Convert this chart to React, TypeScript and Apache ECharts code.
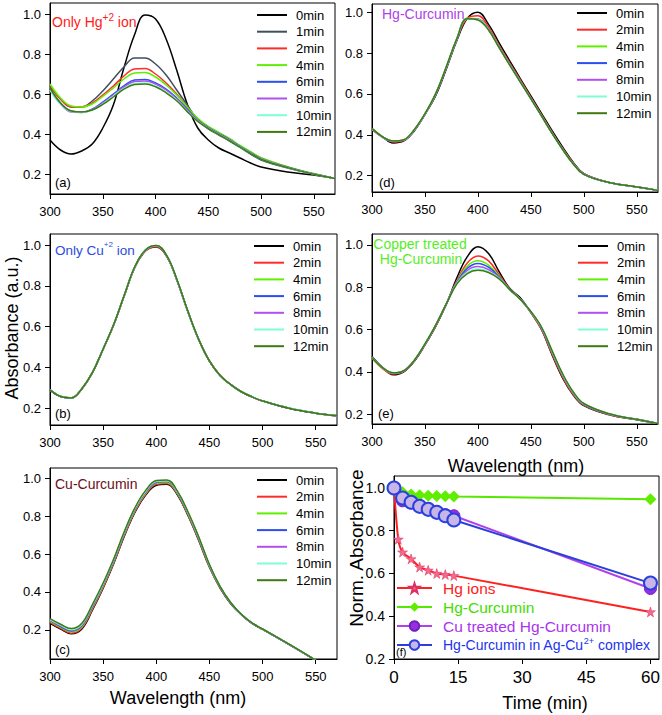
import React, { useEffect, useRef } from 'react';
import * as echarts from 'echarts';

const FONT = '"Liberation Sans", Arial, Helvetica, sans-serif';

// ---------- Data ----------
const WAVELENGTHS = [300, 310, 320, 330, 340, 350, 360, 370, 380, 390, 400, 410, 420, 430, 440, 450, 460, 470, 480, 490, 500, 525, 550, 570];
const TIMES_A = ['0min', '1min', '2min', '4min', '6min', '8min', '10min', '12min'];
const TIMES = ['0min', '2min', '4min', '6min', '8min', '10min', '12min'];
const X_TICKS = [300, 350, 400, 450, 500, 550];
const Y_TICKS = [0.2, 0.4, 0.6, 0.8, 1.0];
const TIME_TICKS = [0, 15, 30, 45, 60];

// (a) Only Hg+2 ion
const A_0 = [0.37, 0.32, 0.30, 0.315, 0.35, 0.43, 0.545, 0.73, 0.895, 0.995, 0.975, 0.875, 0.72, 0.55, 0.43, 0.37, 0.33, 0.305, 0.28, 0.255, 0.235, 0.21, 0.195, 0.178];
const A_1 = [0.64, 0.575, 0.535, 0.535, 0.565, 0.615, 0.675, 0.735, 0.78, 0.78, 0.75, 0.695, 0.62, 0.545, 0.47, 0.425, 0.395, 0.365, 0.333, 0.30, 0.27, 0.23, 0.20, 0.178];
const A_2 = [0.645, 0.575, 0.535, 0.535, 0.555, 0.595, 0.64, 0.69, 0.725, 0.728, 0.70, 0.655, 0.60, 0.535, 0.475, 0.435, 0.405, 0.375, 0.34, 0.31, 0.28, 0.235, 0.20, 0.178];
const A_4 = [0.65, 0.58, 0.54, 0.535, 0.55, 0.588, 0.63, 0.675, 0.705, 0.708, 0.685, 0.645, 0.595, 0.535, 0.478, 0.438, 0.408, 0.378, 0.343, 0.312, 0.282, 0.237, 0.202, 0.178];
const A_6 = [0.625, 0.555, 0.515, 0.51, 0.525, 0.56, 0.60, 0.64, 0.67, 0.672, 0.655, 0.625, 0.58, 0.525, 0.47, 0.432, 0.402, 0.372, 0.338, 0.307, 0.277, 0.234, 0.20, 0.178];
const A_8 = [0.62, 0.55, 0.51, 0.508, 0.522, 0.555, 0.595, 0.635, 0.662, 0.665, 0.65, 0.62, 0.576, 0.52, 0.468, 0.43, 0.40, 0.37, 0.336, 0.305, 0.276, 0.233, 0.20, 0.178];
const A_10 = [0.62, 0.55, 0.512, 0.508, 0.52, 0.55, 0.59, 0.628, 0.652, 0.655, 0.64, 0.61, 0.57, 0.515, 0.465, 0.428, 0.398, 0.368, 0.335, 0.304, 0.275, 0.232, 0.199, 0.178];
const A_12 = [0.63, 0.555, 0.515, 0.51, 0.52, 0.548, 0.585, 0.624, 0.647, 0.65, 0.636, 0.606, 0.566, 0.512, 0.463, 0.427, 0.397, 0.367, 0.334, 0.303, 0.274, 0.232, 0.199, 0.178];

// (d) Hg-Curcumin
const D_0 = [0.43, 0.39, 0.36, 0.37, 0.42, 0.50, 0.59, 0.72, 0.86, 0.97, 1.0, 0.94, 0.85, 0.762, 0.675, 0.59, 0.505, 0.42, 0.34, 0.265, 0.21, 0.165, 0.145, 0.128];
const D_2 = [0.425, 0.388, 0.365, 0.372, 0.422, 0.50, 0.595, 0.725, 0.865, 0.97, 0.982, 0.928, 0.838, 0.752, 0.668, 0.583, 0.498, 0.413, 0.333, 0.262, 0.208, 0.165, 0.145, 0.128];
const D_4 = [0.43, 0.39, 0.37, 0.376, 0.426, 0.503, 0.60, 0.73, 0.87, 0.97, 0.968, 0.918, 0.83, 0.745, 0.662, 0.578, 0.494, 0.409, 0.329, 0.258, 0.207, 0.165, 0.145, 0.128];
const D_6 = [0.428, 0.389, 0.368, 0.374, 0.424, 0.501, 0.598, 0.728, 0.868, 0.968, 0.966, 0.916, 0.829, 0.744, 0.661, 0.577, 0.493, 0.408, 0.329, 0.258, 0.207, 0.165, 0.145, 0.128];
const D_8 = [0.427, 0.388, 0.368, 0.374, 0.424, 0.501, 0.598, 0.728, 0.867, 0.967, 0.965, 0.915, 0.828, 0.743, 0.66, 0.577, 0.493, 0.408, 0.329, 0.258, 0.207, 0.165, 0.145, 0.128];
const D_10 = [0.428, 0.389, 0.369, 0.375, 0.425, 0.502, 0.599, 0.729, 0.868, 0.967, 0.964, 0.914, 0.827, 0.742, 0.659, 0.576, 0.492, 0.407, 0.328, 0.257, 0.206, 0.165, 0.145, 0.128];
const D_12 = [0.43, 0.39, 0.37, 0.376, 0.426, 0.503, 0.60, 0.73, 0.869, 0.968, 0.962, 0.913, 0.826, 0.741, 0.658, 0.576, 0.492, 0.407, 0.328, 0.257, 0.206, 0.165, 0.145, 0.128];

// (b) Only Cu+2 ion
const B_0 = [0.289, 0.257, 0.25, 0.295, 0.376, 0.49, 0.61, 0.754, 0.893, 0.972, 0.99, 0.942, 0.818, 0.668, 0.534, 0.43, 0.36, 0.315, 0.28, 0.255, 0.235, 0.199, 0.175, 0.162];
const B_2 = [0.288, 0.256, 0.249, 0.294, 0.374, 0.488, 0.608, 0.752, 0.892, 0.972, 0.992, 0.943, 0.82, 0.67, 0.536, 0.431, 0.361, 0.316, 0.281, 0.256, 0.235, 0.199, 0.175, 0.162];
const B_4 = [0.29, 0.258, 0.251, 0.296, 0.376, 0.491, 0.611, 0.756, 0.896, 0.977, 0.997, 0.946, 0.821, 0.671, 0.535, 0.43, 0.36, 0.315, 0.28, 0.255, 0.235, 0.2, 0.176, 0.163];
const B_6 = [0.289, 0.257, 0.25, 0.295, 0.375, 0.49, 0.61, 0.755, 0.895, 0.975, 0.995, 0.945, 0.82, 0.67, 0.535, 0.43, 0.36, 0.315, 0.28, 0.255, 0.235, 0.199, 0.175, 0.162];
const B_8 = [0.289, 0.257, 0.25, 0.295, 0.375, 0.49, 0.61, 0.755, 0.895, 0.976, 0.996, 0.945, 0.82, 0.67, 0.535, 0.43, 0.36, 0.315, 0.28, 0.255, 0.234, 0.199, 0.175, 0.162];
const B_10 = [0.29, 0.258, 0.25, 0.295, 0.375, 0.49, 0.61, 0.755, 0.895, 0.976, 0.996, 0.946, 0.821, 0.67, 0.535, 0.43, 0.36, 0.315, 0.28, 0.256, 0.235, 0.2, 0.175, 0.162];
const B_12 = [0.289, 0.257, 0.25, 0.295, 0.375, 0.49, 0.611, 0.756, 0.896, 0.977, 0.998, 0.947, 0.822, 0.671, 0.536, 0.431, 0.36, 0.315, 0.28, 0.255, 0.235, 0.199, 0.175, 0.162];

// (e) Copper treated Hg-Curcumin
const E_0 = [0.472, 0.42, 0.386, 0.40, 0.45, 0.527, 0.614, 0.717, 0.843, 0.945, 0.992, 0.96, 0.874, 0.795, 0.75, 0.68, 0.60, 0.48, 0.37, 0.29, 0.24, 0.195, 0.173, 0.155];
const E_2 = [0.465, 0.415, 0.39, 0.402, 0.452, 0.528, 0.615, 0.718, 0.83, 0.915, 0.948, 0.925, 0.86, 0.792, 0.745, 0.68, 0.60, 0.485, 0.375, 0.293, 0.242, 0.196, 0.174, 0.155];
const E_4 = [0.468, 0.418, 0.393, 0.404, 0.454, 0.53, 0.618, 0.72, 0.825, 0.90, 0.925, 0.905, 0.852, 0.79, 0.744, 0.683, 0.606, 0.492, 0.382, 0.298, 0.245, 0.198, 0.175, 0.155];
const E_6 = [0.47, 0.42, 0.394, 0.404, 0.454, 0.53, 0.618, 0.72, 0.822, 0.89, 0.913, 0.895, 0.848, 0.79, 0.743, 0.683, 0.607, 0.494, 0.384, 0.30, 0.246, 0.198, 0.175, 0.155];
const E_8 = [0.47, 0.42, 0.394, 0.405, 0.455, 0.531, 0.619, 0.72, 0.82, 0.88, 0.898, 0.884, 0.845, 0.79, 0.743, 0.684, 0.609, 0.496, 0.386, 0.302, 0.247, 0.199, 0.175, 0.155];
const E_10 = [0.469, 0.42, 0.395, 0.405, 0.455, 0.532, 0.62, 0.72, 0.817, 0.87, 0.886, 0.875, 0.842, 0.79, 0.742, 0.685, 0.611, 0.498, 0.388, 0.304, 0.249, 0.20, 0.175, 0.155];
const E_12 = [0.468, 0.42, 0.395, 0.405, 0.455, 0.532, 0.62, 0.72, 0.815, 0.865, 0.88, 0.87, 0.84, 0.79, 0.742, 0.685, 0.612, 0.50, 0.39, 0.305, 0.25, 0.20, 0.175, 0.155];

// (c) Cu-Curcumin
const C_0 = [0.235, 0.205, 0.18, 0.205, 0.305, 0.42, 0.55, 0.695, 0.82, 0.91, 0.962, 0.968, 0.91, 0.80, 0.67, 0.53, 0.42, 0.338, 0.28, 0.235, 0.203, 0.123, 0.04, -0.03];
const C_2 = [0.24, 0.208, 0.183, 0.21, 0.31, 0.424, 0.554, 0.70, 0.825, 0.915, 0.967, 0.972, 0.914, 0.804, 0.674, 0.533, 0.422, 0.34, 0.281, 0.236, 0.204, 0.124, 0.04, -0.03];
const C_4 = [0.246, 0.214, 0.19, 0.217, 0.317, 0.431, 0.56, 0.705, 0.83, 0.92, 0.972, 0.977, 0.918, 0.808, 0.678, 0.536, 0.424, 0.341, 0.281, 0.236, 0.204, 0.124, 0.04, -0.03];
const C_6 = [0.25, 0.218, 0.195, 0.222, 0.322, 0.436, 0.564, 0.71, 0.835, 0.925, 0.977, 0.982, 0.922, 0.812, 0.682, 0.539, 0.426, 0.342, 0.282, 0.236, 0.204, 0.124, 0.04, -0.03];
const C_8 = [0.252, 0.222, 0.198, 0.226, 0.326, 0.439, 0.567, 0.712, 0.837, 0.927, 0.979, 0.983, 0.923, 0.814, 0.684, 0.541, 0.428, 0.343, 0.282, 0.236, 0.204, 0.124, 0.04, -0.03];
const C_10 = [0.255, 0.226, 0.202, 0.23, 0.33, 0.443, 0.571, 0.716, 0.841, 0.931, 0.983, 0.986, 0.926, 0.817, 0.687, 0.543, 0.429, 0.344, 0.283, 0.237, 0.205, 0.125, 0.04, -0.03];
const C_12 = [0.26, 0.23, 0.207, 0.235, 0.335, 0.447, 0.575, 0.72, 0.845, 0.935, 0.987, 0.99, 0.93, 0.82, 0.69, 0.545, 0.43, 0.345, 0.283, 0.237, 0.205, 0.125, 0.04, -0.03];

// (f) normalized absorbance vs time
const T_HG = [0, 1, 2, 4, 6, 8, 10, 12, 14, 60];
const HG_IONS = [1.0, 0.76, 0.70, 0.668, 0.63, 0.615, 0.60, 0.595, 0.59, 0.42];
const T_OTHER = [0, 2, 4, 6, 8, 10, 12, 14, 60];
const HG_CURCUMIN = [1.0, 0.98, 0.97, 0.966, 0.964, 0.962, 0.961, 0.96, 0.947];
const CU_TREATED = [1.0, 0.94, 0.93, 0.915, 0.903, 0.89, 0.875, 0.87, 0.53];
const AG_CU = [1.0, 0.953, 0.933, 0.914, 0.90, 0.886, 0.87, 0.85, 0.555];

// ---------- Styles ----------
const TIME_COLORS: Record<string, string> = {
  '0min': '#000000',
  '1min': '#3e4f5e',
  '2min': '#ff2a2a',
  '4min': '#5ef000',
  '6min': '#2a4ef0',
  '8min': '#b050f0',
  '10min': '#7effd0',
  '12min': '#3f7a10',
};

const STAR = 'path://M50,0 L61.8,35.1 L98.1,35.1 L68.8,56.7 L79.4,91.9 L50,70.5 L20.6,91.9 L31.2,56.7 L1.9,35.1 L38.2,35.1 Z';
const AGCU_NAME = 'Hg-Curcumin in Ag-Cu2+ complex';

const spectraPanels = [
  { grid: { left: 50, top: 3, width: 285, height: 191 }, yMin: 0.1, yMax: 1.055, times: TIMES_A, values: [A_0, A_1, A_2, A_4, A_6, A_8, A_10, A_12], legend: { left: 257, top: 8 } },
  { grid: { left: 372, top: 4, width: 286, height: 188 }, yMin: 0.12, yMax: 1.04, times: TIMES, values: [D_0, D_2, D_4, D_6, D_8, D_10, D_12], legend: { left: 577, top: 6 } },
  { grid: { left: 50, top: 234, width: 287, height: 191 }, yMin: 0.117, yMax: 1.054, times: TIMES, values: [B_0, B_2, B_4, B_6, B_8, B_10, B_12], legend: { left: 254, top: 239 } },
  { grid: { left: 372, top: 234, width: 286, height: 190 }, yMin: 0.153, yMax: 1.052, times: TIMES, values: [E_0, E_2, E_4, E_6, E_8, E_10, E_12], legend: { left: 578, top: 239 } },
  { grid: { left: 50, top: 468, width: 287, height: 191 }, yMin: 0.047, yMax: 1.053, times: TIMES, values: [C_0, C_2, C_4, C_6, C_8, C_10, C_12], legend: { left: 257, top: 473 } },
];

function buildOption(): any {
  const grids: any[] = [];
  const xAxes: any[] = [];
  const yAxes: any[] = [];
  const series: any[] = [];
  const legends: any[] = [];

  const axisCommon = (gridIndex: number) => ({
    type: 'value',
    gridIndex,
    splitLine: { show: false },
    axisLine: { show: true, onZero: false, lineStyle: { color: '#000', width: 1 } },
  });

  spectraPanels.forEach((p, gi) => {
    grids.push({ ...p.grid, show: true, borderColor: '#000', borderWidth: 1, backgroundColor: 'transparent', containLabel: false, outerBoundsMode: 'none' });
    xAxes.push({
      ...axisCommon(gi),
      min: 300,
      max: 570,
      axisTick: { show: true, inside: false, length: 5, customValues: X_TICKS, lineStyle: { color: '#000' } },
      axisLabel: { customValues: X_TICKS, color: '#000', fontSize: 13, fontFamily: FONT, margin: 11 },
    });
    yAxes.push({
      ...axisCommon(gi),
      min: p.yMin,
      max: p.yMax,
      axisTick: { show: true, inside: false, length: 5, customValues: Y_TICKS, lineStyle: { color: '#000' } },
      axisLabel: { customValues: Y_TICKS, color: '#000', fontSize: 13, fontFamily: FONT, margin: 9, formatter: (v: number) => v.toFixed(1) },
    });
    p.times.forEach((t, si) => {
      const vals = p.values[si];
      series.push({
        type: 'line',
        name: t,
        xAxisIndex: gi,
        yAxisIndex: gi,
        symbol: 'none',
        smooth: 0.4,
        clip: true,
        lineStyle: { color: TIME_COLORS[t], width: 1.5 },
        itemStyle: { color: TIME_COLORS[t] },
        data: WAVELENGTHS.map((w, i) => [w, vals[i]]),
      });
    });
    legends.push({
      orient: 'vertical',
      left: p.legend.left,
      top: p.legend.top,
      padding: 0,
      icon: 'rect',
      itemWidth: 30,
      itemHeight: 2,
      itemGap: 2.7,
      selectedMode: false,
      data: p.times,
      textStyle: { color: '#000', fontSize: 13, fontFamily: FONT, lineHeight: 14, padding: [0, 0, 0, 4] },
    });
  });

  // Panel (f)
  const fi = 5;
  grids.push({ left: 394, top: 476, width: 265, height: 183, show: true, borderColor: '#000', borderWidth: 1, backgroundColor: 'transparent', containLabel: false, outerBoundsMode: 'none' });
  xAxes.push({
    ...axisCommon(fi),
    min: 0,
    max: 62,
    axisTick: { show: true, length: 5, customValues: TIME_TICKS, lineStyle: { color: '#000' } },
    axisLabel: { customValues: TIME_TICKS, color: '#000', fontSize: 17, fontFamily: FONT, margin: 10 },
  });
  yAxes.push({
    ...axisCommon(fi),
    min: 0.2,
    max: 1.056,
    axisTick: { show: true, length: 5, customValues: Y_TICKS, lineStyle: { color: '#000' } },
    axisLabel: { customValues: Y_TICKS, color: '#000', fontSize: 14, fontFamily: FONT, margin: 9, formatter: (v: number) => v.toFixed(1) },
  });
  series.push(
    {
      type: 'line', name: 'Hg ions', xAxisIndex: fi, yAxisIndex: fi, clip: false, smooth: 0.25,
      symbol: STAR, symbolSize: 10,
      lineStyle: { color: '#ff2020', width: 2 },
      itemStyle: { color: '#f26a8e', borderColor: '#e03060', borderWidth: 0.5 },
      data: T_HG.map((t, i) => [t, HG_IONS[i]]),
    },
    {
      type: 'line', name: 'Hg-Curcumin', xAxisIndex: fi, yAxisIndex: fi, clip: false,
      symbol: 'diamond', symbolSize: 12,
      lineStyle: { color: '#55e800', width: 2 },
      itemStyle: { color: '#60ee00' },
      data: T_OTHER.map((t, i) => [t, HG_CURCUMIN[i]]),
    },
    {
      type: 'line', name: 'Cu treated Hg-Curcumin', xAxisIndex: fi, yAxisIndex: fi, clip: false,
      symbol: 'circle', symbolSize: 12,
      lineStyle: { color: '#b040ee', width: 2 },
      itemStyle: { color: '#9430e0', borderColor: '#7020c0', borderWidth: 1 },
      data: T_OTHER.map((t, i) => [t, CU_TREATED[i]]),
    },
    {
      type: 'line', name: AGCU_NAME, xAxisIndex: fi, yAxisIndex: fi, clip: false,
      symbol: 'circle', symbolSize: 13,
      lineStyle: { color: '#2a40d8', width: 2 },
      itemStyle: { color: '#c8b6e6', borderColor: '#2a40e0', borderWidth: 2 },
      data: T_OTHER.map((t, i) => [t, AG_CU[i]]),
    },
  );
  legends.push({
    orient: 'vertical',
    left: 396,
    top: 579,
    padding: 0,
    itemWidth: 35,
    itemHeight: 12,
    itemGap: 1,
    selectedMode: false,
    formatter: (name: string) => (name === AGCU_NAME ? 'Hg-Curcumin in Ag-Cu{s|2+} complex' : name),
    textStyle: {
      fontFamily: FONT, fontSize: 15.5, lineHeight: 18, padding: [0, 0, 0, 6],
      rich: { s: { fontSize: 9, lineHeight: 9, verticalAlign: 'top', color: '#2233ee', fontFamily: FONT } },
    },
    data: [
      { name: 'Hg ions', textStyle: { color: '#ff2020' } },
      { name: 'Hg-Curcumin', textStyle: { color: '#44dd00' } },
      { name: 'Cu treated Hg-Curcumin', textStyle: { color: '#aa33ee' } },
      { name: AGCU_NAME, textStyle: { color: '#2233ee', fontSize: 14 } },
    ],
  });

  const txt = (text: string, x: number, y: number, fill: string, fontSize: number, extra: any = {}) => ({
    type: 'text',
    x,
    y,
    rotation: extra.rotation || 0,
    silent: true,
    style: {
      text,
      fill,
      fontSize,
      fontFamily: FONT,
      align: extra.align || 'left',
      verticalAlign: 'middle',
      lineHeight: extra.lineHeight,
      rich: extra.rich,
    },
  });
  const supRich = (color: string) => ({ s: { fontSize: 10, lineHeight: 10, verticalAlign: 'top', fill: color, fontFamily: FONT } });

  const graphics = [
    txt('Only Hg{s|+2} ion', 52, 22, '#ff1a1a', 14, { lineHeight: 20, rich: supRich('#ff1a1a') }),
    txt('Hg-Curcumin', 382, 14, '#b040e8', 14),
    txt('Only Cu{s|+2} ion', 55, 250, '#2d4be0', 13.5, { lineHeight: 20, rich: { s: { fontSize: 8, lineHeight: 8, verticalAlign: 'top', fill: '#2d4be0', fontFamily: FONT } } }),
    txt('Copper treated', 420, 244, '#55ee22', 14, { align: 'center' }),
    txt('Hg-Curcumin', 421, 259, '#55ee22', 14, { align: 'center' }),
    txt('Cu-Curcumin', 55, 484, '#6a1020', 14),
    txt('(a)', 55, 182, '#000', 13),
    txt('(d)', 379, 182, '#000', 13),
    txt('(b)', 55, 413, '#000', 13),
    txt('(e)', 378, 413, '#000', 13),
    txt('(c)', 55, 649, '#000', 13),
    txt('(f)', 396, 652, '#000', 11),
    txt('Absorbance (a.u.)', 12, 328, '#000', 18, { align: 'center', rotation: Math.PI / 2 }),
    txt('Wavelength (nm)', 516, 466, '#000', 18, { align: 'center' }),
    txt('Wavelength (nm)', 178, 698, '#000', 18, { align: 'center' }),
    txt('Norm. Absorbance', 356, 548, '#000', 19, { align: 'center', rotation: Math.PI / 2 }),
    txt('Time (min)', 545, 703, '#000', 18, { align: 'center' }),
  ];

  return {
    animation: false,
    backgroundColor: '#ffffff',
    textStyle: { fontFamily: FONT },
    grid: grids,
    xAxis: xAxes,
    yAxis: yAxes,
    legend: legends,
    series,
    graphic: graphics,
  };
}

export default function App() {
  const ref = useRef<HTMLDivElement>(null);
  useEffect(() => {
    if (!ref.current) return;
    const chart = echarts.init(ref.current, null, { renderer: 'svg' });
    chart.setOption(buildOption());
    return () => {
      chart.dispose();
    };
  }, []);
  return (
    <div
      ref={ref}
      style={{ position: 'absolute', left: 0, top: 0, width: 662, height: 715, background: '#fff' }}
    />
  );
}
